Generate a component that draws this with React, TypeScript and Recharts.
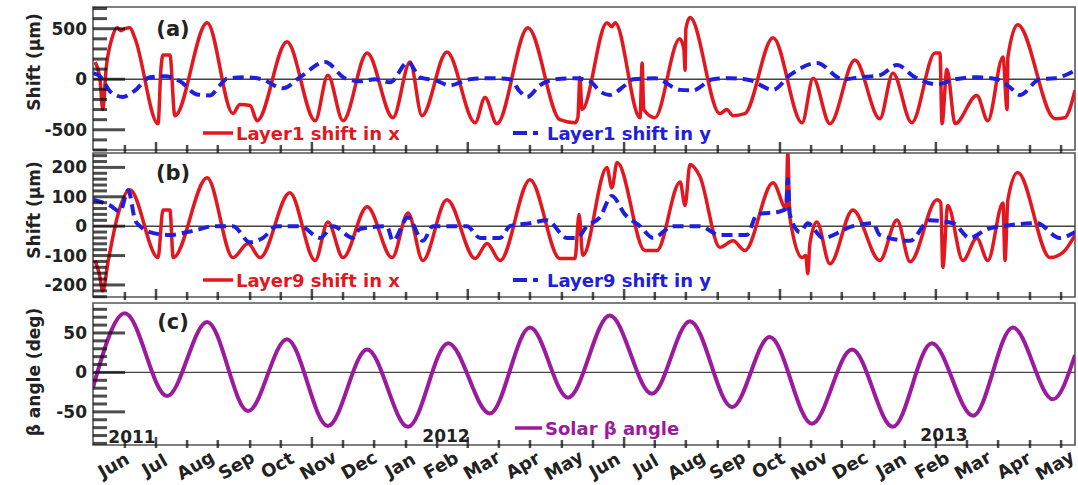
import React from "react";
import {
  LineChart,
  Line,
  XAxis,
  YAxis,
  ReferenceLine,
  ReferenceArea,
  Legend,
} from "recharts";

// x is in months since 1 Jun 2011
const months = [
  "Jun", "Jul", "Aug", "Sep", "Oct", "Nov", "Dec", "Jan", "Feb", "Mar", "Apr", "May",
  "Jun", "Jul", "Aug", "Sep", "Oct", "Nov", "Dec", "Jan", "Feb", "Mar", "Apr", "May",
];
const monthTicks = months.map((_, i) => i + 0.5);

// the small ROOT ticks along the bottom of each pad
const rootTicks = [
  0.78, 1.54, 2.3, 3.05, 3.84, 4.59, 5.35, 6.11, 6.87, 7.65, 8.41, 9.16, 9.92, 10.68,
  11.46, 12.22, 12.98, 13.73, 14.49, 15.27, 16.03, 16.79, 17.55, 18.3, 19.09, 19.84,
  20.6, 21.36, 22.12, 22.9, 23.66,
];
const rootMajor = [1.54, 5.35, 9.16, 12.98, 16.79, 20.6];

const shiftATicks = [-700, -600, -500, -400, -300, -200, -100, 0, 100, 200, 300, 400, 500, 600, 700];
const shiftAMajor = [-500, 0, 500];
const shiftBTicks = [
  -240, -220, -200, -180, -160, -140, -120, -100, -80, -60, -40, -20, 0, 20, 40, 60, 80,
  100, 120, 140, 160, 180, 200, 220, 240,
];
const shiftBMajor = [-200, -100, 0, 100, 200];
const betaTicks = [-90, -80, -70, -60, -50, -40, -30, -20, -10, 0, 10, 20, 30, 40, 50, 60, 70, 80];
const betaMajor = [-50, 0, 50];

// [month, shift um]
const layer1X = [
  [0.05, 170], [0.17, 0], [0.24, -300], [0.32, 100], [0.46, 400], [0.59, 510], [0.68, 480],
  [0.78, 500], [0.9, 510], [1.03, 400], [1.59, -440], [1.66, 100], [1.71, 240], [1.88, 240],
  [2.0, -360], [2.79, 560], [3.42, -340], [3.59, -250], [3.84, -260], [4.01, -410], [4.74, 370],
  [5.43, -410], [5.74, 40], [6.11, -410], [6.7, 260], [7.33, -380], [7.75, 170], [8.04, -360],
  [8.65, 270], [9.34, -430], [9.58, -180], [9.87, -440], [10.63, 510], [11.41, -400],
  [11.78, -430], [11.85, -380], [11.9, 20], [11.95, -300], [12.56, 560], [12.68, 520],
  [12.76, 560], [13.37, -380], [13.42, 160], [13.46, -300], [13.73, -380], [14.34, 400],
  [14.44, 300], [14.47, 90], [14.49, 500], [14.59, 610], [15.32, -340], [15.49, -300],
  [15.64, -360], [15.93, -340], [16.62, 410], [17.33, -430], [17.6, 10], [18.01, -440],
  [18.62, 190], [19.23, -390], [19.55, 60], [20.01, -430], [20.58, 260], [20.7, 260],
  [20.75, -440], [20.87, 100], [21.07, -440], [21.6, -160], [21.87, -410], [22.24, 220],
  [22.34, -300], [22.36, 220], [22.6, 540], [23.51, -390], [23.75, -380], [24.0, -110],
];

const layer1Y = [
  [0.0, 60], [0.17, 30], [0.42, -120], [0.73, -175], [1.03, -110], [1.39, 20], [1.76, 30],
  [2.13, -20], [2.54, -150], [2.86, -160], [3.1, -60], [3.27, 5], [3.71, 20], [4.13, 0],
  [4.64, -90], [5.06, 20], [5.67, 170], [6.16, 10], [6.52, -20], [6.89, 0], [7.26, -30],
  [7.7, 170], [7.99, 20], [8.36, -10], [8.72, -60], [9.21, 0], [9.7, 10], [10.19, 0],
  [10.43, -120], [10.61, -175], [10.92, -60], [11.29, 0], [11.78, 10], [12.15, -20],
  [12.39, -120], [12.63, -155], [13.0, -60], [13.2, 0], [13.73, 10], [14.35, -105],
  [14.66, -110], [15.15, 0], [15.57, 10], [16.06, -10], [16.62, -105], [17.03, 40],
  [17.69, 160], [18.33, 0], [18.74, 20], [19.23, 40], [19.65, 140], [20.09, 20], [20.63, -50],
  [21.07, 0], [21.55, 20], [22.09, 0], [22.41, -80], [22.65, -155], [23.14, 0], [23.51, 10],
  [23.95, 75],
];

const layer9X = [
  [0.05, -117], [0.15, -160], [0.24, -220], [0.37, -120], [0.61, 40], [0.9, 124], [1.59, -107],
  [1.71, 55], [1.88, 55], [1.96, -107], [2.79, 165], [3.42, -107], [3.79, -59], [4.08, -107],
  [4.81, 114], [5.43, -117], [5.74, 14], [6.11, -107], [6.7, 66], [7.31, -107], [7.7, 45],
  [8.06, -117], [8.65, 90], [9.34, -110], [9.63, -59], [9.95, -117], [10.68, 158],
  [11.41, -110], [11.78, -110], [11.88, 40], [11.97, -100], [12.56, 200], [12.68, 130],
  [12.81, 217], [13.49, -83], [13.78, -83], [14.35, 150], [14.47, 70], [14.59, 210],
  [14.83, 170], [15.32, -72], [15.64, -50], [15.93, -83], [16.62, 148], [16.94, 60],
  [16.98, 250], [17.03, 31], [17.33, -107], [17.42, -100], [17.47, -162], [17.52, -60],
  [17.69, 14], [18.01, -128], [18.57, 55], [19.23, -117], [19.65, 21], [19.97, -121],
  [20.63, 90], [20.72, 80], [20.77, -140], [20.89, 70], [21.26, -117], [21.6, -41],
  [21.87, -117], [22.24, 79], [22.29, -117], [22.36, 90], [22.6, 183], [23.39, -107],
  [23.7, -90], [24.0, -30],
];

const layer9Y = [
  [0.0, 90], [0.42, 70], [0.66, 50], [0.86, 123], [1.03, 20], [1.15, 0], [1.39, -20],
  [1.88, -30], [2.3, -20], [2.61, -10], [2.93, 0], [3.42, 0], [3.84, -55], [4.15, -40],
  [4.5, 0], [5.06, 0], [5.55, -40], [5.87, 0], [6.35, -40], [6.52, -10], [7.18, 0],
  [7.33, -50], [7.7, 30], [8.06, -50], [8.31, 0], [9.14, 0], [9.46, -40], [9.95, -40],
  [10.19, 0], [10.68, 10], [11.1, 20], [11.58, -40], [11.83, -40], [12.07, 0], [12.39, 30],
  [12.68, 103], [13.0, 40], [13.37, 0], [13.69, -40], [14.17, 0], [14.83, 0], [15.32, -30],
  [15.98, -30], [16.23, 40], [16.79, 50], [16.94, 60], [16.98, 160], [17.03, 40],
  [17.28, -20], [17.47, 10], [17.84, -40], [18.57, 0], [19.06, 10], [19.23, -30],
  [19.97, -50], [20.45, 20], [21.02, 10], [21.43, -40], [21.85, -10], [22.24, 0],
  [23.07, 10], [23.63, -40], [24.0, -20],
];

// [month, beta deg] : turning points of the solar beta angle
const solarBeta = [
  [0.0, -19], [0.78, 75], [1.81, -30], [2.79, 64], [3.79, -49], [4.74, 42], [5.74, -68],
  [6.7, 29], [7.7, -69], [8.68, 37], [9.7, -52], [10.68, 57], [11.61, -32], [12.63, 72],
  [13.66, -27], [14.59, 65], [15.62, -44], [16.54, 45], [17.57, -65], [18.55, 29],
  [19.55, -69], [20.5, 37], [21.51, -55], [22.48, 57], [23.46, -34], [24.0, 22],
];

const toPoints = (arr: number[][]) => arr.map(([t, v]) => ({ t, v }));

const W = 1078;
const LEFT = 93;
const RIGHT = 1075;
const FONT = "'DejaVu Sans', Verdana, sans-serif";
const RED = "#e3171f";
const BLUE = "#2020dc";
const PURPLE = "#9c1a9e";
const INK = "#222";
const TICK = "#111";

// pad geometry on the page
const pads = [
  { top: 7, bottom: 150, lo: -700, hi: 715, ticks: shiftATicks, majors: shiftAMajor },
  { top: 153, bottom: 297, lo: -241, hi: 249, ticks: shiftBTicks, majors: shiftBMajor },
  { top: 303, bottom: 445, lo: -92, hi: 88, ticks: betaTicks, majors: betaMajor },
];

function YTick({ y, payload, majors }: any) {
  if (!majors.includes(payload.value)) return <g />;
  return (
    <text x={LEFT - 6} y={y} textAnchor="end" dominantBaseline="central"
      fontFamily={FONT} fontWeight="bold" fontSize={17} fill={INK}>
      {payload.value}
    </text>
  );
}

function MonthTick({ x, payload, bottom }: any) {
  const cy = bottom + 20;
  return (
    <text x={x} y={cy} textAnchor="middle" dominantBaseline="central"
      transform={`rotate(-30 ${x} ${cy})`}
      fontFamily={FONT} fontWeight="bold" fontSize={18} fill={INK}>
      {months[Math.floor(payload.value)]}
    </text>
  );
}

// ROOT-style inward tick marks for all three pads, drawn on a page-size layer
function TickLayer() {
  const marks: React.ReactElement[] = [];
  pads.forEach((p, i) => {
    p.ticks.forEach((v) => {
      const y = p.top + ((p.hi - v) / (p.hi - p.lo)) * (p.bottom - p.top);
      const len = p.majors.includes(v) ? 32 : 14;
      marks.push(<rect key={`p${i}y${v}`} x={LEFT} y={y - 1.5} width={len} height={3} fill={TICK} opacity={0.75} />);
    });
    rootTicks.forEach((t) => {
      const x = LEFT + (t / 24) * (RIGHT - LEFT);
      const len = rootMajor.includes(t) ? 8 : 5;
      marks.push(<rect key={`p${i}x${t}`} x={x - 1.25} y={p.bottom - len} width={2.5} height={len + 3} fill={TICK} opacity={0.75} />);
    });
  });
  return (
    <svg width={W} height={485} style={{ position: "absolute", left: 0, top: 0, zIndex: 5, pointerEvents: "none" }}>
      {marks}
    </svg>
  );
}

const txt = { fontFamily: FONT, fontWeight: "bold" as const, dominantBaseline: "central" as const };

function Overlay({ h, children }: any) {
  return (
    <svg width={W} height={h} style={{ display: "block", pointerEvents: "none" }}>
      {children}
    </svg>
  );
}

const overlayA = (
  <Overlay h={152}>
    <text x={173} y={29} textAnchor="middle" fontSize={21} fill={INK} {...txt}>(a)</text>
    <text transform="translate(34,62) rotate(-90)" textAnchor="middle" fontSize={17} fill={INK} {...txt}>Shift (μm)</text>
    <line x1={203} x2={233} y1={133} y2={133} stroke={RED} strokeWidth={3.5} />
    <text x={236} y={133} fontSize={18} fill={RED} {...txt}>Layer1 shift in x</text>
    <line x1={513} x2={538} y1={133} y2={133} stroke={BLUE} strokeWidth={4} strokeDasharray="14 6" />
    <text x={547} y={133} fontSize={18} fill={BLUE} {...txt}>Layer1 shift in y</text>
  </Overlay>
);

const overlayB = (
  <Overlay h={147}>
    <text x={173} y={21} textAnchor="middle" fontSize={21} fill={INK} {...txt}>(b)</text>
    <text transform="translate(34,58) rotate(-90)" textAnchor="middle" fontSize={17} fill={INK} {...txt}>Shift (μm)</text>
    <line x1={203} x2={233} y1={128} y2={128} stroke={RED} strokeWidth={3.5} />
    <text x={236} y={128} fontSize={18} fill={RED} {...txt}>Layer9 shift in x</text>
    <line x1={513} x2={538} y1={128} y2={128} stroke={BLUE} strokeWidth={4} strokeDasharray="14 6" />
    <text x={547} y={128} fontSize={18} fill={BLUE} {...txt}>Layer9 shift in y</text>
  </Overlay>
);

const overlayC = (
  <Overlay h={186}>
    <text x={173} y={23} textAnchor="middle" fontSize={21} fill={INK} {...txt}>(c)</text>
    <text transform="translate(34,73) rotate(-90)" textAnchor="middle" fontSize={17} fill={INK} {...txt}>β angle (deg)</text>
    <line x1={515} x2={542} y1={129} y2={129} stroke={PURPLE} strokeWidth={3.5} />
    <text x={545} y={129} fontSize={18} fill={PURPLE} {...txt}>Solar β angle</text>
    <text x={132} y={138} textAnchor="middle" fontSize={17} fill={INK} {...txt}>2011</text>
    <text x={446} y={137} textAnchor="middle" fontSize={17} fill={INK} {...txt}>2012</text>
    <text x={944} y={136} textAnchor="middle" fontSize={17} fill={INK} {...txt}>2013</text>
  </Overlay>
);

const xAxisMain = (
  <XAxis dataKey="t" type="number" domain={[0, 24]} allowDataOverflow ticks={rootTicks}
    interval={0} height={0} tick={false} tickLine={false} axisLine={false} />
);

const yAxis = (domain: number[], ticks: number[], majors: number[]) => (
  <YAxis type="number" domain={domain} allowDataOverflow ticks={ticks} interval={0}
    width={LEFT} tickSize={0} tickMargin={0} axisLine={false} tickLine={false}
    tick={(p: any) => <YTick {...p} majors={majors} />} />
);

const frame = (y1: number, y2: number) => (
  <ReferenceArea x1={0} x2={24} y1={y1} y2={y2} fill="none" stroke="#555" strokeWidth={1.6} ifOverflow="visible" />
);

const zeroLine = <ReferenceLine y={0} stroke="#444" strokeWidth={1.4} />;

const legend = (h: number, node: React.ReactNode) => (
  <Legend verticalAlign="middle" align="center" layout="horizontal"
    wrapperStyle={{ left: 0, top: 0, width: W, height: h, pointerEvents: "none" }}
    content={() => node} />
);

export default function App() {
  return (
    <div style={{ position: "absolute", left: 0, top: 0, width: W, height: 485, background: "#fff" }}>
      <div style={{ position: "absolute", left: 0, top: 0 }}>
        <LineChart width={W} height={152} margin={{ top: 7, right: 3, bottom: 2, left: 0 }}>
          {xAxisMain}
          {yAxis([-700, 715], shiftATicks, shiftAMajor)}
          {frame(-700, 715)}
          {zeroLine}
          <Line data={toPoints(layer1X)} dataKey="v" type="monotone" stroke={RED} strokeWidth={3.5}
            dot={false} activeDot={false} isAnimationActive={false} />
          <Line data={toPoints(layer1Y)} dataKey="v" type="monotone" stroke={BLUE} strokeWidth={4}
            strokeDasharray="11 6" dot={false} activeDot={false} isAnimationActive={false} />
          {legend(152, overlayA)}
        </LineChart>
      </div>
      <div style={{ position: "absolute", left: 0, top: 152 }}>
        <LineChart width={W} height={147} margin={{ top: 1, right: 3, bottom: 2, left: 0 }}>
          {xAxisMain}
          {yAxis([-241, 249], shiftBTicks, shiftBMajor)}
          {frame(-241, 249)}
          {zeroLine}
          <Line data={toPoints(layer9X)} dataKey="v" type="monotone" stroke={RED} strokeWidth={3.5}
            dot={false} activeDot={false} isAnimationActive={false} />
          <Line data={toPoints(layer9Y)} dataKey="v" type="monotone" stroke={BLUE} strokeWidth={4}
            strokeDasharray="11 6" dot={false} activeDot={false} isAnimationActive={false} />
          {legend(147, overlayB)}
        </LineChart>
      </div>
      <div style={{ position: "absolute", left: 0, top: 299 }}>
        <LineChart width={W} height={186} margin={{ top: 4, right: 3, bottom: 0, left: 0 }}>
          {xAxisMain}
          <XAxis xAxisId="m" dataKey="t" type="number" domain={[0, 24]} allowDataOverflow
            ticks={monthTicks} interval={0} height={40} tickSize={0} tickMargin={0}
            axisLine={false} tickLine={false}
            tick={(p: any) => <MonthTick {...p} bottom={146} />} />
          {yAxis([-92, 88], betaTicks, betaMajor)}
          {frame(-92, 88)}
          {zeroLine}
          <Line data={toPoints(solarBeta)} dataKey="v" type="monotone" stroke={PURPLE} strokeWidth={4}
            dot={false} activeDot={false} isAnimationActive={false} />
          {legend(186, overlayC)}
        </LineChart>
      </div>
      <TickLayer />
    </div>
  );
}
